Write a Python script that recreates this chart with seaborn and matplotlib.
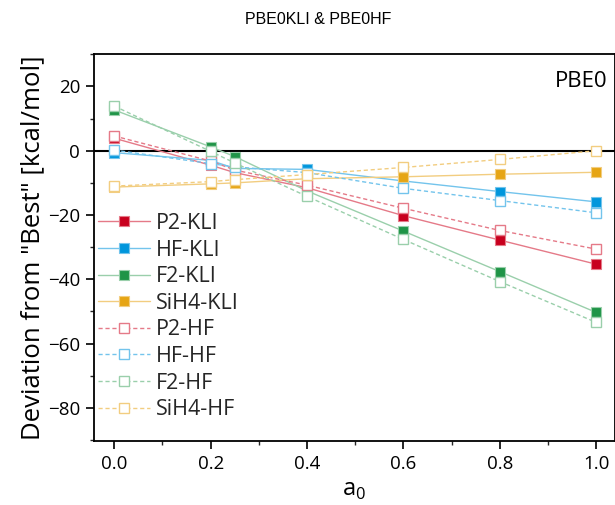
import numpy as np
import pandas as pd
import matplotlib
matplotlib.use("Agg")
import matplotlib.pyplot as plt
import seaborn as sns
from matplotlib.ticker import MultipleLocator

a0 = [0.0, 0.2, 0.25, 0.4, 0.6, 0.8, 1.0]
p2_kli = [3.9, -4.5, -6.8, -11.5, -20.2, -27.8, -35.3]
hf_kli = [-0.6, -3.0, -5.5, -5.8, -9.4, -12.7, -15.9]
f2_kli = [12.7, 1.2, -1.8, -12.5, -25.0, -37.6, -50.3]
sih4_kli = [-11.3, -10.3, -10.0, -8.7, -8.1, -7.3, -6.7]
p2_hf = [4.6, -3.2, -6.0, -10.7, -17.9, -24.8, -30.6]
hf_hf = [0.2, -4.0, -5.0, -6.8, -11.7, -15.5, -19.3]
f2_hf = [13.9, -0.2, -3.8, -14.2, -27.6, -40.7, -53.4]
sih4_hf = [-11.0, -9.6, -9.0, -7.4, -5.2, -2.7, 0.0]

series_names = ["P2-KLI", "HF-KLI", "F2-KLI", "SiH4-KLI",
                "P2-HF", "HF-HF", "F2-HF", "SiH4-HF"]
series_values = [p2_kli, hf_kli, f2_kli, sih4_kli, p2_hf, hf_hf, f2_hf, sih4_hf]

dark = {"P2": "#C8001E", "HF": "#0096DC", "F2": "#1F9447", "SiH4": "#E6A515"}
light = {"P2": "#E57A88", "HF": "#73C4EC", "F2": "#9ACFAB", "SiH4": "#F2CD80"}

sns.set_theme(style="ticks")
plt.rcParams["font.family"] = ["Open Sans", "DejaVu Sans"]

fig = plt.figure(figsize=(6.15, 5.05), dpi=100)
ax = fig.add_axes([94/615, 1-441/505, (615-94)/615, (441-54)/505])

ax.axhline(0, color="black", lw=1.5, zorder=1)

for name, vals in zip(series_names, series_values):
    mol, kind = name.rsplit("-", 1)
    df = pd.DataFrame({"a0": a0, "dev": vals})
    if kind == "KLI":
        sns.lineplot(data=df, x="a0", y="dev", ax=ax, label=name,
                     color=light[mol], lw=1.0, marker="s", markersize=7,
                     markerfacecolor=dark[mol], markeredgecolor=light[mol],
                     markeredgewidth=0.8, zorder=3)
    else:
        sns.lineplot(data=df, x="a0", y="dev", ax=ax, label=name,
                     color=light[mol], lw=1.0, marker="s", markersize=7,
                     markerfacecolor="white", markeredgecolor=light[mol],
                     markeredgewidth=1.0, dashes=(3, 2), zorder=3)

ax.set_xlim(-0.042, 1.039)
ax.set_ylim(-90.3, 30.1)
ax.xaxis.set_major_locator(MultipleLocator(0.2))
ax.xaxis.set_minor_locator(MultipleLocator(0.1))
ax.yaxis.set_major_locator(MultipleLocator(20))
ax.yaxis.set_minor_locator(MultipleLocator(10))
ax.set_xticks([0.0, 0.2, 0.4, 0.6, 0.8, 1.0])
ax.set_xticklabels(["0.0", "0.2", "0.4", "0.6", "0.8", "1.0"])
ax.tick_params(axis="both", which="major", direction="out", length=6, width=1.2,
               labelsize=13.5, colors="black", pad=4)
ax.tick_params(axis="both", which="minor", direction="out", length=3, width=1.0)
for sp in ax.spines.values():
    sp.set_color("black")
    sp.set_linewidth(1.3)

ax.set_xlabel("a$_\\mathregular{0}$", fontsize=17, color="black", labelpad=4)
ax.set_ylabel('Deviation from "Best" [kcal/mol]', fontsize=18.5, color="black", labelpad=2)

ax.text(0.985, 0.955, "PBE0", transform=ax.transAxes, ha="right", va="top",
        fontsize=16, color="black")

fig.text(318/615, 1-20/505, "PBE0KLI & PBE0HF", ha="center", va="center",
         fontsize=11.5, color="black", family=["Liberation Sans", "DejaVu Sans"])

ax.legend(loc="upper left", bbox_to_anchor=(98/615, 1-213/505),
          bbox_transform=fig.transFigure, frameon=False, fontsize=15.5,
          handlelength=2.4, handletextpad=0.3, labelspacing=0.26, borderpad=0,
          borderaxespad=0)

fig.savefig("out.png", dpi=100)
